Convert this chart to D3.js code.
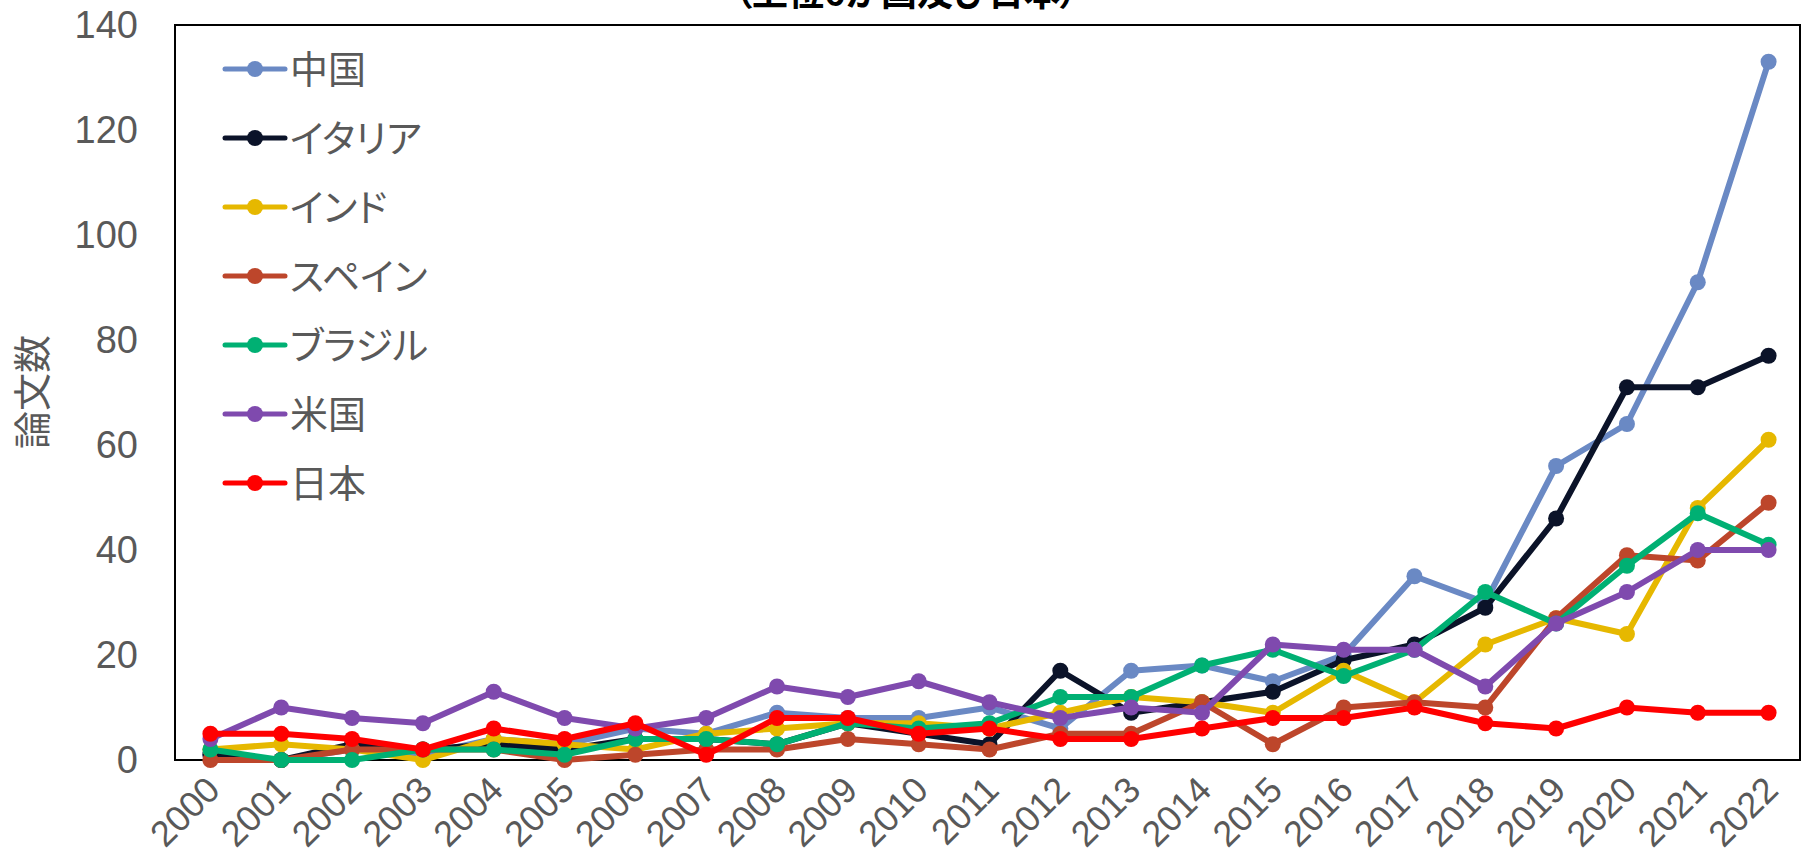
<!DOCTYPE html>
<html lang="ja">
<head>
<meta charset="UTF-8">
<title>論文数の推移</title>
<script src="https://d3js.org/d3.v7.min.js"></script>
<style>
  html, body { margin: 0; padding: 0; background: #fff; }
  svg { display: block; }
  .tick-label { font-family: "Liberation Sans", Arial, sans-serif; font-size: 38px; fill: #595959; }
  .x-label { font-size: 36px; }
  .jp { font-family: "Noto Sans CJK JP", sans-serif; fill: #595959; font-feature-settings: "palt"; }
</style>
</head>
<body>
<svg id="chart" width="1803" height="859"></svg>
<script>
// data
const years = d3.range(2000, 2023).map(String);
const seriesNames = ["中国", "イタリア", "インド", "スペイン", "ブラジル", "米国", "日本"];
const seriesColors = ["#6A89C4", "#0B1329", "#E6B800", "#BD462B", "#00B073", "#7F4AAE", "#FF0000"];

const china  = [1, 0, 2, 1, 4, 3, 6, 5, 9, 8, 8, 10, 6, 17, 18, 15, 20, 35, 30, 56, 64, 91, 133];
const italy  = [1, 0, 3, 2, 3, 2, 4, 4, 3, 7, 5, 3, 17, 9, 11, 13, 19, 22, 29, 46, 71, 71, 77];
const india  = [2, 3, 2, 0, 4, 3, 2, 5, 6, 7, 7, 6, 9, 12, 11, 9, 17, 11, 22, 27, 24, 48, 61];
const spain  = [0, 0, 2, 2, 2, 0, 1, 2, 2, 4, 3, 2, 5, 5, 11, 3, 10, 11, 10, 27, 39, 38, 49];
const brazil = [2, 0, 0, 2, 2, 1, 4, 4, 3, 7, 6, 7, 12, 12, 18, 21, 16, 21, 32, 26, 37, 47, 41];
const usa    = [4, 10, 8, 7, 13, 8, 6, 8, 14, 12, 15, 11, 8, 10, 9, 22, 21, 21, 14, 26, 32, 40, 40];
const japan  = [5, 5, 4, 2, 6, 4, 7, 1, 8, 8, 5, 6, 4, 4, 6, 8, 8, 10, 7, 6, 10, 9, 9];

const yTicks = [0, 20, 40, 60, 80, 100, 120, 140];
const chartTitle = "（上位6か国及び日本）";
const yTitle = "論文数";

const allValues = [china, italy, india, spain, brazil, usa, japan];
const series = seriesNames.map((name, i) => ({ name, color: seriesColors[i], values: allValues[i] }));

const svg = d3.select("#chart");
const plotLeft = 175, plotRight = 1800, plotTop = 25, plotBottom = 760;

const x = d3.scalePoint()
  .domain(years)
  .range([plotLeft, plotRight + 4])
  .padding(0.5);

const y = d3.scaleLinear()
  .domain([0, 140])
  .range([plotBottom, plotTop]);

// title (cut off at the top like the source)
svg.append("text")
  .attr("class", "jp")
  .attr("x", 906)
  .attr("y", 6)
  .attr("text-anchor", "middle")
  .attr("font-size", "36px")
  .attr("font-weight", "bold")
  .style("fill", "#000")
  .text(chartTitle);

// y axis labels
const yAxis = d3.axisLeft(y).tickValues(yTicks).tickSize(0).tickPadding(37);
const gy = svg.append("g").attr("transform", `translate(${plotLeft},0)`).call(yAxis);
gy.select(".domain").remove();
gy.attr("font-size", null).attr("font-family", null);
gy.selectAll("text").attr("class", "tick-label");

// x axis labels, rotated
const xAxis = d3.axisBottom(x).tickSize(0).tickPadding(0);
const gx = svg.append("g").attr("transform", `translate(0,${plotBottom})`).call(xAxis);
gx.select(".domain").remove();
gx.attr("font-size", null).attr("font-family", null);
gx.selectAll("text")
  .attr("class", "tick-label x-label")
  .attr("dy", null).attr("y", null)
  .attr("text-anchor", "end")
  .attr("transform", "translate(11,32) rotate(-45)");

// y title
svg.append("text")
  .attr("class", "jp")
  .attr("transform", "translate(46,392) rotate(-90)")
  .attr("text-anchor", "middle")
  .attr("font-size", "38px")
  .text(yTitle);

// plot frame
svg.append("rect")
  .attr("x", plotLeft).attr("y", plotTop)
  .attr("width", plotRight - plotLeft).attr("height", plotBottom - plotTop)
  .attr("fill", "none")
  .attr("stroke", "#000")
  .attr("stroke-width", 2);

// lines
const line = d3.line()
  .x((d, i) => x(years[i]))
  .y(d => y(d));

const g = svg.append("g");
series.forEach(s => {
  const sg = g.append("g");
  sg.append("path")
    .datum(s.values)
    .attr("d", line)
    .attr("fill", "none")
    .attr("stroke", s.color)
    .attr("stroke-width", 6)
    .attr("stroke-linejoin", "round")
    .attr("stroke-linecap", "round");
  sg.selectAll("circle")
    .data(s.values)
    .enter().append("circle")
    .attr("cx", (d, i) => x(years[i]))
    .attr("cy", d => y(d))
    .attr("r", 8)
    .attr("fill", s.color);
});

// legend
const legend = svg.append("g").attr("transform", "translate(225,69)");
const rows = legend.selectAll("g")
  .data(series)
  .enter().append("g")
  .attr("transform", (d, i) => `translate(0,${i * 69})`);
rows.append("line")
  .attr("x1", 0).attr("x2", 60)
  .attr("stroke", d => d.color)
  .attr("stroke-width", 5)
  .attr("stroke-linecap", "round");
rows.append("circle")
  .attr("cx", 30).attr("r", 8)
  .attr("fill", d => d.color);
rows.append("text")
  .attr("class", "jp")
  .attr("x", 65)
  .attr("dy", "0.36em")
  .attr("font-size", "38px")
  .text(d => d.name);
</script>
</body>
</html>
